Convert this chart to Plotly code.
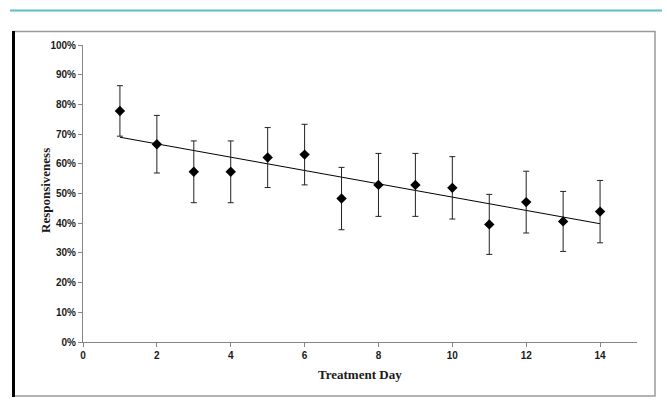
import numpy as np
import plotly.graph_objects as go

days = [1, 2, 3, 4, 5, 6, 7, 8, 9, 10, 11, 12, 13, 14]
responsiveness = [0.778, 0.666, 0.573, 0.573, 0.621, 0.631, 0.483, 0.529, 0.529, 0.519, 0.396, 0.471, 0.406, 0.439]
error = [0.085, 0.097, 0.104, 0.104, 0.101, 0.102, 0.105, 0.106, 0.106, 0.105, 0.101, 0.104, 0.101, 0.105]
x_ticks = [0, 2, 4, 6, 8, 10, 12, 14]
y_ticks = [0, 0.1, 0.2, 0.3, 0.4, 0.5, 0.6, 0.7, 0.8, 0.9, 1.0]

# linear trendline from the data
slope, intercept = np.polyfit(days, responsiveness, 1)
trend_x = [days[0], days[-1]]
trend_y = [slope * v + intercept for v in trend_x]

W, H = 667, 410
L, R, T, B = 83, 30, 45, 68
pw, ph = W - L - R, H - T - B


def px(x):
    return (x - L) / pw


def py(y):
    return (H - B - y) / ph


fig = go.Figure()
fig.add_trace(go.Scatter(x=trend_x, y=trend_y, mode="lines",
                         line=dict(color="black", width=1), showlegend=False,
                         hoverinfo="skip"))
fig.add_trace(go.Scatter(x=days, y=responsiveness, mode="markers",
                         marker=dict(symbol="diamond", size=8, color="black"),
                         error_y=dict(type="data", array=error, visible=True,
                                      color="#222222", thickness=1, width=3),
                         showlegend=False))

tick_font = dict(family="Liberation Sans", size=10, color="#1a1a1a", weight="bold")
axis_common = dict(showline=True, linecolor="#868686", linewidth=1,
                   ticks="outside", ticklen=4, tickcolor="#868686",
                   showgrid=False, zeroline=False, tickfont=tick_font)

fig.update_layout(
    width=W, height=H,
    margin=dict(l=L, r=R, t=T, b=B),
    plot_bgcolor="white", paper_bgcolor="white",
    xaxis=dict(range=[0, 15], tickvals=x_ticks, **axis_common),
    yaxis=dict(range=[0, 1], tickvals=y_ticks, tickformat=".0%", **axis_common),
    shapes=[
        dict(type="line", xref="paper", yref="paper", x0=px(10), x1=px(662),
             y0=py(10.5), y1=py(10.5), line=dict(color="#5cbfc6", width=2)),
        dict(type="rect", xref="paper", yref="paper", x0=px(13.5), x1=px(655),
             y0=py(396), y1=py(31.5), line=dict(color="#9a9a9a", width=1.5)),
        dict(type="line", xref="paper", yref="paper", x0=px(13.5), x1=px(13.5),
             y0=py(397), y1=py(31), line=dict(color="black", width=3)),
    ],
    annotations=[
        dict(text="Treatment Day", xref="paper", yref="paper", x=0.5, y=py(374),
             xanchor="center", yanchor="middle", showarrow=False,
             font=dict(family="Liberation Serif", size=13, color="#1a1a1a", weight="bold")),
        dict(text="Responsiveness", xref="paper", yref="paper", x=px(45), y=py(191),
             xanchor="center", yanchor="middle", showarrow=False, textangle=-90,
             font=dict(family="Liberation Serif", size=13, color="#1a1a1a", weight="bold")),
    ],
)

fig.write_html("out.html", config={"displayModeBar": False},
               post_script="document.body.style.margin='0';")
